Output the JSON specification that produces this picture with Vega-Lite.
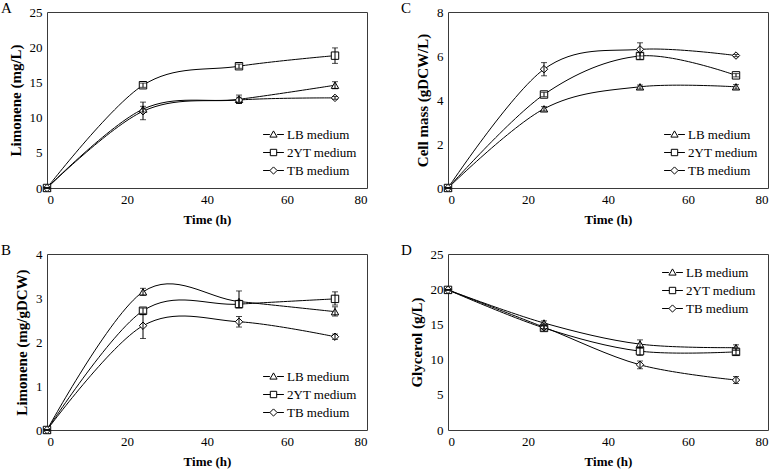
{
  "$schema": "https://vega.github.io/schema/vega-lite/v6.json",
  "background": "white",
  "padding": {"left": 0, "top": 0, "right": 5, "bottom": 0},
  "datasets": {
    "A": [
      {"medium": "LB medium", "time": 0, "y": 0, "lo": 0, "hi": 0},
      {"medium": "LB medium", "time": 24, "y": 11.2, "lo": 10.8, "hi": 11.6},
      {"medium": "LB medium", "time": 48, "y": 12.6, "lo": 12.0, "hi": 13.2},
      {"medium": "LB medium", "time": 72, "y": 14.6, "lo": 14.1, "hi": 15.1},
      {"medium": "2YT medium", "time": 0, "y": 0, "lo": 0, "hi": 0},
      {"medium": "2YT medium", "time": 24, "y": 14.6, "lo": 14.3, "hi": 14.9},
      {"medium": "2YT medium", "time": 48, "y": 17.3, "lo": 17.0, "hi": 17.6},
      {"medium": "2YT medium", "time": 72, "y": 18.8, "lo": 17.7, "hi": 19.9},
      {"medium": "TB medium", "time": 0, "y": 0, "lo": 0, "hi": 0},
      {"medium": "TB medium", "time": 24, "y": 10.9, "lo": 9.7, "hi": 12.2},
      {"medium": "TB medium", "time": 48, "y": 12.5, "lo": 12.0, "hi": 12.9},
      {"medium": "TB medium", "time": 72, "y": 12.8, "lo": 12.6, "hi": 13.0}
    ],
    "B": [
      {"medium": "LB medium", "time": 0, "y": 0, "lo": 0, "hi": 0},
      {"medium": "LB medium", "time": 24, "y": 3.14, "lo": 3.06, "hi": 3.22},
      {"medium": "LB medium", "time": 48, "y": 2.92, "lo": 2.78, "hi": 3.16},
      {"medium": "LB medium", "time": 72, "y": 2.69, "lo": 2.59, "hi": 2.8},
      {"medium": "2YT medium", "time": 0, "y": 0, "lo": 0, "hi": 0},
      {"medium": "2YT medium", "time": 24, "y": 2.71, "lo": 2.65, "hi": 2.77},
      {"medium": "2YT medium", "time": 48, "y": 2.86, "lo": 2.78, "hi": 2.94},
      {"medium": "2YT medium", "time": 72, "y": 2.98, "lo": 2.84, "hi": 3.14},
      {"medium": "TB medium", "time": 0, "y": 0, "lo": 0, "hi": 0},
      {"medium": "TB medium", "time": 24, "y": 2.37, "lo": 2.08, "hi": 2.62},
      {"medium": "TB medium", "time": 48, "y": 2.46, "lo": 2.34, "hi": 2.58},
      {"medium": "TB medium", "time": 72, "y": 2.12, "lo": 2.06, "hi": 2.18}
    ],
    "C": [
      {"medium": "LB medium", "time": 0, "y": 0, "lo": 0, "hi": 0},
      {"medium": "LB medium", "time": 24, "y": 3.6, "lo": 3.5, "hi": 3.7},
      {"medium": "LB medium", "time": 48, "y": 4.6, "lo": 4.5, "hi": 4.68},
      {"medium": "LB medium", "time": 72, "y": 4.6, "lo": 4.5, "hi": 4.7},
      {"medium": "2YT medium", "time": 0, "y": 0, "lo": 0, "hi": 0},
      {"medium": "2YT medium", "time": 24, "y": 4.25, "lo": 4.15, "hi": 4.35},
      {"medium": "2YT medium", "time": 48, "y": 6.0, "lo": 5.85, "hi": 6.15},
      {"medium": "2YT medium", "time": 72, "y": 5.12, "lo": 5.05, "hi": 5.2},
      {"medium": "TB medium", "time": 0, "y": 0, "lo": 0, "hi": 0},
      {"medium": "TB medium", "time": 24, "y": 5.4, "lo": 5.1, "hi": 5.7},
      {"medium": "TB medium", "time": 48, "y": 6.3, "lo": 6.0, "hi": 6.6},
      {"medium": "TB medium", "time": 72, "y": 6.02, "lo": 5.97, "hi": 6.07}
    ],
    "D": [
      {"medium": "LB medium", "time": 0, "y": 19.9, "lo": 19.9, "hi": 19.9},
      {"medium": "LB medium", "time": 24, "y": 15.2, "lo": 14.9, "hi": 15.5},
      {"medium": "LB medium", "time": 48, "y": 12.2, "lo": 11.6, "hi": 12.8},
      {"medium": "LB medium", "time": 72, "y": 11.7, "lo": 11.3, "hi": 12.1},
      {"medium": "2YT medium", "time": 0, "y": 19.9, "lo": 19.9, "hi": 19.9},
      {"medium": "2YT medium", "time": 24, "y": 14.5, "lo": 14.2, "hi": 14.8},
      {"medium": "2YT medium", "time": 48, "y": 11.2, "lo": 10.6, "hi": 11.8},
      {"medium": "2YT medium", "time": 72, "y": 11.1, "lo": 10.7, "hi": 11.5},
      {"medium": "TB medium", "time": 0, "y": 19.9, "lo": 19.9, "hi": 19.9},
      {"medium": "TB medium", "time": 24, "y": 14.6, "lo": 14.4, "hi": 14.8},
      {"medium": "TB medium", "time": 48, "y": 9.26, "lo": 8.7, "hi": 9.8},
      {"medium": "TB medium", "time": 72, "y": 7.1, "lo": 6.6, "hi": 7.6}
    ]
  },
  "columns": 2,
  "spacing": {"row": 66, "column": 81},
  "bounds": "flush",
  "resolve": {"scale": {"x": "independent", "y": "independent", "shape": "independent"}, "legend": {"shape": "independent"}},
  "concat": [
    {
      "width": 320, "height": 176,
      "title": {"text": "A", "anchor": "start", "frame": "group", "dx": -46, "dy": 14},
      "data": {"name": "A"},
      "encoding": {
        "x": {"field": "time", "type": "quantitative", "title": "Time (h)", "scale": {"domain": [0, 80]}, "axis": {"values": [0, 20, 40, 60, 80]}},
        "y": {"field": "y", "type": "quantitative", "title": "Limonene (mg/L)", "scale": {"domain": [0, 25]}, "axis": {"values": [0, 5, 10, 15, 20, 25], "labelOverlap": false}}
      },
      "resolve": {"scale": {"shape": "independent"}, "legend": {"shape": "independent"}},
      "layer": [
        {"mark": {"type": "line", "interpolate": "cardinal", "color": "black", "strokeWidth": 1},
         "encoding": {"detail": {"field": "medium"}}},
        {"mark": {"type": "point", "filled": false, "color": "black", "strokeWidth": 1, "size": 64, "opacity": 0},
         "encoding": {"shape": {"field": "medium", "type": "nominal", "scale": {"domain": ["LB medium", "2YT medium", "TB medium"], "range": ["M-2.6,0L-0.9,0M0.9,0L2.6,0M0,-0.9L0.9,0.65L-0.9,0.65Z", "M-2.6,0L-0.8,0M0.8,0L2.6,0M-0.8,-0.8L0.8,-0.8L0.8,0.8L-0.8,0.8Z", "M-2.6,0L-0.9,0M0.9,0L2.6,0M0,-0.9L0.9,0L0,0.9L-0.9,0Z"]},
                                "legend": {"orient": "bottom-right", "offset": 10, "symbolOpacity": 1}}}},
        {"mark": {"type": "point", "filled": true, "fill": "white", "stroke": "black", "strokeWidth": 1, "size": 55, "opacity": 1},
         "encoding": {"shape": {"field": "medium", "type": "nominal", "scale": {"domain": ["LB medium", "2YT medium", "TB medium"], "range": ["triangle-up", "square", "diamond"]}, "legend": null}}},
        {"mark": {"type": "errorbar", "ticks": {"size": 6}, "color": "black", "thickness": 1},
         "encoding": {"y": {"field": "lo", "type": "quantitative", "title": "Limonene (mg/L)"}, "y2": {"field": "hi"}}}
      ]
    },
    {
      "width": 320, "height": 176,
      "title": {"text": "C", "anchor": "start", "frame": "group", "dx": -47, "dy": 14},
      "data": {"name": "C"},
      "encoding": {
        "x": {"field": "time", "type": "quantitative", "title": "Time (h)", "scale": {"domain": [0, 80]}, "axis": {"values": [0, 20, 40, 60, 80]}},
        "y": {"field": "y", "type": "quantitative", "title": "Cell mass (gDCW/L)", "scale": {"domain": [0, 8]}, "axis": {"values": [0, 2, 4, 6, 8], "labelOverlap": false}}
      },
      "resolve": {"scale": {"shape": "independent"}, "legend": {"shape": "independent"}},
      "layer": [
        {"mark": {"type": "line", "interpolate": "cardinal", "color": "black", "strokeWidth": 1},
         "encoding": {"detail": {"field": "medium"}}},
        {"mark": {"type": "point", "filled": false, "color": "black", "strokeWidth": 1, "size": 64, "opacity": 0},
         "encoding": {"shape": {"field": "medium", "type": "nominal", "scale": {"domain": ["LB medium", "2YT medium", "TB medium"], "range": ["M-2.6,0L-0.9,0M0.9,0L2.6,0M0,-0.9L0.9,0.65L-0.9,0.65Z", "M-2.6,0L-0.8,0M0.8,0L2.6,0M-0.8,-0.8L0.8,-0.8L0.8,0.8L-0.8,0.8Z", "M-2.6,0L-0.9,0M0.9,0L2.6,0M0,-0.9L0.9,0L0,0.9L-0.9,0Z"]},
                                "legend": {"orient": "bottom-right", "offset": 10, "symbolOpacity": 1}}}},
        {"mark": {"type": "point", "filled": true, "fill": "white", "stroke": "black", "strokeWidth": 1, "size": 55, "opacity": 1},
         "encoding": {"shape": {"field": "medium", "type": "nominal", "scale": {"domain": ["LB medium", "2YT medium", "TB medium"], "range": ["triangle-up", "square", "diamond"]}, "legend": null}}},
        {"mark": {"type": "errorbar", "ticks": {"size": 6}, "color": "black", "thickness": 1},
         "encoding": {"y": {"field": "lo", "type": "quantitative", "title": "Cell mass (gDCW/L)"}, "y2": {"field": "hi"}}}
      ]
    },
    {
      "width": 320, "height": 176,
      "title": {"text": "B", "anchor": "start", "frame": "group", "dx": -46, "dy": 14},
      "data": {"name": "B"},
      "encoding": {
        "x": {"field": "time", "type": "quantitative", "title": "Time (h)", "scale": {"domain": [0, 80]}, "axis": {"values": [0, 20, 40, 60, 80]}},
        "y": {"field": "y", "type": "quantitative", "title": "Limonene (mg/gDCW)", "scale": {"domain": [0, 4]}, "axis": {"values": [0, 1, 2, 3, 4], "labelOverlap": false}}
      },
      "resolve": {"scale": {"shape": "independent"}, "legend": {"shape": "independent"}},
      "layer": [
        {"mark": {"type": "line", "interpolate": "cardinal", "color": "black", "strokeWidth": 1},
         "encoding": {"detail": {"field": "medium"}}},
        {"mark": {"type": "point", "filled": false, "color": "black", "strokeWidth": 1, "size": 64, "opacity": 0},
         "encoding": {"shape": {"field": "medium", "type": "nominal", "scale": {"domain": ["LB medium", "2YT medium", "TB medium"], "range": ["M-2.6,0L-0.9,0M0.9,0L2.6,0M0,-0.9L0.9,0.65L-0.9,0.65Z", "M-2.6,0L-0.8,0M0.8,0L2.6,0M-0.8,-0.8L0.8,-0.8L0.8,0.8L-0.8,0.8Z", "M-2.6,0L-0.9,0M0.9,0L2.6,0M0,-0.9L0.9,0L0,0.9L-0.9,0Z"]},
                                "legend": {"orient": "bottom-right", "offset": 10, "symbolOpacity": 1}}}},
        {"mark": {"type": "point", "filled": true, "fill": "white", "stroke": "black", "strokeWidth": 1, "size": 55, "opacity": 1},
         "encoding": {"shape": {"field": "medium", "type": "nominal", "scale": {"domain": ["LB medium", "2YT medium", "TB medium"], "range": ["triangle-up", "square", "diamond"]}, "legend": null}}},
        {"mark": {"type": "errorbar", "ticks": {"size": 6}, "color": "black", "thickness": 1},
         "encoding": {"y": {"field": "lo", "type": "quantitative", "title": "Limonene (mg/gDCW)"}, "y2": {"field": "hi"}}}
      ]
    },
    {
      "width": 320, "height": 176,
      "title": {"text": "D", "anchor": "start", "frame": "group", "dx": -47, "dy": 14},
      "data": {"name": "D"},
      "encoding": {
        "x": {"field": "time", "type": "quantitative", "title": "Time (h)", "scale": {"domain": [0, 80]}, "axis": {"values": [0, 20, 40, 60, 80]}},
        "y": {"field": "y", "type": "quantitative", "title": "Glycerol (g/L)", "scale": {"domain": [0, 25]}, "axis": {"values": [0, 5, 10, 15, 20, 25], "labelOverlap": false}}
      },
      "resolve": {"scale": {"shape": "independent"}, "legend": {"shape": "independent"}},
      "layer": [
        {"mark": {"type": "line", "interpolate": "cardinal", "color": "black", "strokeWidth": 1},
         "encoding": {"detail": {"field": "medium"}}},
        {"mark": {"type": "point", "filled": false, "color": "black", "strokeWidth": 1, "size": 64, "opacity": 0},
         "encoding": {"shape": {"field": "medium", "type": "nominal", "scale": {"domain": ["LB medium", "2YT medium", "TB medium"], "range": ["M-2.6,0L-0.9,0M0.9,0L2.6,0M0,-0.9L0.9,0.65L-0.9,0.65Z", "M-2.6,0L-0.8,0M0.8,0L2.6,0M-0.8,-0.8L0.8,-0.8L0.8,0.8L-0.8,0.8Z", "M-2.6,0L-0.9,0M0.9,0L2.6,0M0,-0.9L0.9,0L0,0.9L-0.9,0Z"]},
                                "legend": {"orient": "top-right", "offset": 12, "symbolOpacity": 1}}}},
        {"mark": {"type": "point", "filled": true, "fill": "white", "stroke": "black", "strokeWidth": 1, "size": 55, "opacity": 1},
         "encoding": {"shape": {"field": "medium", "type": "nominal", "scale": {"domain": ["LB medium", "2YT medium", "TB medium"], "range": ["triangle-up", "square", "diamond"]}, "legend": null}}},
        {"mark": {"type": "errorbar", "ticks": {"size": 6}, "color": "black", "thickness": 1},
         "encoding": {"y": {"field": "lo", "type": "quantitative", "title": "Glycerol (g/L)"}, "y2": {"field": "hi"}}}
      ]
    }
  ],
  "config": {
    "font": "Liberation Serif, Times New Roman, DejaVu Serif, serif",
    "view": {"stroke": "#3a3a3a", "strokeWidth": 1},
    "title": {"font": "Liberation Serif, Times New Roman, DejaVu Serif, serif", "fontSize": 15, "fontWeight": "normal", "color": "black", "offset": 0, "baseline": "alphabetic"},
    "axis": {"domain": false, "ticks": false, "grid": false,
             "labelFont": "Liberation Serif, Times New Roman, DejaVu Serif, serif", "labelFontSize": 13, "labelColor": "black", "labelPadding": 5,
             "titleFont": "Liberation Serif, Times New Roman, DejaVu Serif, serif", "titleFontSize": 13, "titleFontWeight": "bold", "titleColor": "black", "titlePadding": 7},
    "axisY": {"titleFontSize": 15, "titlePadding": 6},
    "legend": {"title": null, "labelFont": "Liberation Serif, Times New Roman, DejaVu Serif, serif", "labelFontSize": 13, "labelColor": "black",
               "symbolSize": 64, "symbolStrokeColor": "black", "symbolStrokeWidth": 1,
               "labelOffset": 7, "rowPadding": 4, "padding": 0}
  }
}
